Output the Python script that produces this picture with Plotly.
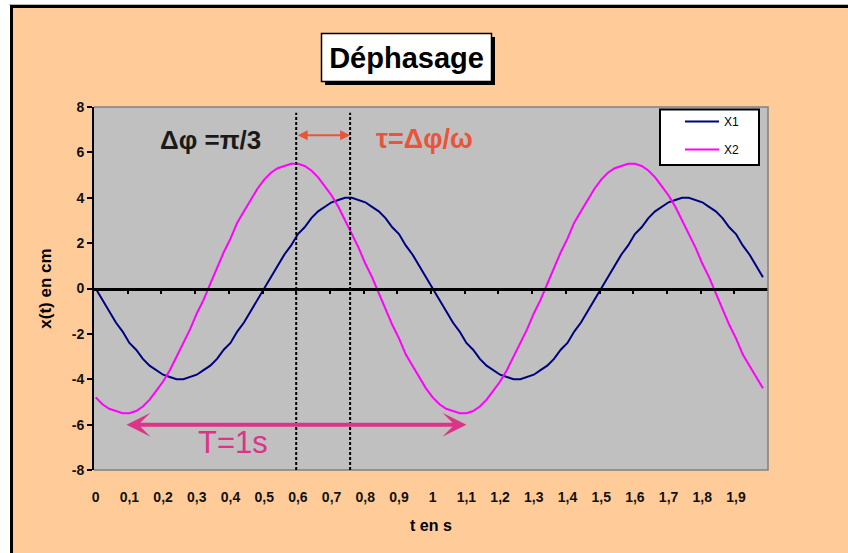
import plotly.graph_objects as go

# ---------------- data ----------------
t = [0.00, 0.02, 0.04, 0.06, 0.08, 0.10, 0.12, 0.14, 0.16, 0.18,
     0.20, 0.22, 0.24, 0.26, 0.28, 0.30, 0.32, 0.34, 0.36, 0.38,
     0.40, 0.42, 0.44, 0.46, 0.48, 0.50, 0.52, 0.54, 0.56, 0.58,
     0.60, 0.62, 0.64, 0.66, 0.68, 0.70, 0.72, 0.74, 0.76, 0.78,
     0.80, 0.82, 0.84, 0.86, 0.88, 0.90, 0.92, 0.94, 0.96, 0.98,
     1.00, 1.02, 1.04, 1.06, 1.08, 1.10, 1.12, 1.14, 1.16, 1.18,
     1.20, 1.22, 1.24, 1.26, 1.28, 1.30, 1.32, 1.34, 1.36, 1.38,
     1.40, 1.42, 1.44, 1.46, 1.48, 1.50, 1.52, 1.54, 1.56, 1.58,
     1.60, 1.62, 1.64, 1.66, 1.68, 1.70, 1.72, 1.74, 1.76, 1.78,
     1.80, 1.82, 1.84, 1.86, 1.88, 1.90, 1.92, 1.94, 1.96, 1.98]

x1 = [0.0, -0.5, -1.0, -1.5, -1.9, -2.4, -2.7, -3.1, -3.4, -3.6,
      -3.8, -3.9, -4.0, -4.0, -3.9, -3.8, -3.6, -3.4, -3.1, -2.7,
      -2.4, -1.9, -1.5, -1.0, -0.5, 0.0, 0.5, 1.0, 1.5, 1.9,
      2.4, 2.7, 3.1, 3.4, 3.6, 3.8, 3.9, 4.0, 4.0, 3.9,
      3.8, 3.6, 3.4, 3.1, 2.7, 2.4, 1.9, 1.5, 1.0, 0.5,
      0.0, -0.5, -1.0, -1.5, -1.9, -2.4, -2.7, -3.1, -3.4, -3.6,
      -3.8, -3.9, -4.0, -4.0, -3.9, -3.8, -3.6, -3.4, -3.1, -2.7,
      -2.4, -1.9, -1.5, -1.0, -0.5, 0.0, 0.5, 1.0, 1.5, 1.9,
      2.4, 2.7, 3.1, 3.4, 3.6, 3.8, 3.9, 4.0, 4.0, 3.9,
      3.8, 3.6, 3.4, 3.1, 2.7, 2.4, 1.9, 1.5, 1.0, 0.5]

x2 = [-4.8, -5.1, -5.3, -5.4, -5.5, -5.5, -5.4, -5.2, -4.9, -4.5,
      -4.1, -3.6, -3.0, -2.4, -1.8, -1.1, -0.5, 0.2, 0.9, 1.6,
      2.2, 2.9, 3.4, 3.9, 4.4, 4.8, 5.1, 5.3, 5.4, 5.5,
      5.5, 5.4, 5.2, 4.9, 4.5, 4.1, 3.6, 3.0, 2.4, 1.8,
      1.1, 0.5, -0.2, -0.9, -1.6, -2.2, -2.9, -3.4, -3.9, -4.4,
      -4.8, -5.1, -5.3, -5.4, -5.5, -5.5, -5.4, -5.2, -4.9, -4.5,
      -4.1, -3.6, -3.0, -2.4, -1.8, -1.1, -0.5, 0.2, 0.9, 1.6,
      2.2, 2.9, 3.4, 3.9, 4.4, 4.8, 5.1, 5.3, 5.4, 5.5,
      5.5, 5.4, 5.2, 4.9, 4.5, 4.1, 3.6, 3.0, 2.4, 1.8,
      1.1, 0.5, -0.2, -0.9, -1.6, -2.2, -2.9, -3.4, -3.9, -4.4]

series_names = ["X1", "X2"]

x_tick_vals = [0.0, 0.1, 0.2, 0.3, 0.4, 0.5, 0.6, 0.7, 0.8, 0.9,
               1.0, 1.1, 1.2, 1.3, 1.4, 1.5, 1.6, 1.7, 1.8, 1.9]
x_tick_text = ["0", "0,1", "0,2", "0,3", "0,4", "0,5", "0,6", "0,7", "0,8", "0,9",
               "1", "1,1", "1,2", "1,3", "1,4", "1,5", "1,6", "1,7", "1,8", "1,9"]
x_tick_marks = [0.095, 0.195, 0.295, 0.395, 0.495, 0.595, 0.695, 0.795, 0.895, 0.995,
                1.095, 1.195, 1.295, 1.395, 1.495, 1.595, 1.695, 1.795, 1.895]
x_range = [-0.005, 1.995]

y_tick_vals = [-8, -6, -4, -2, 0, 2, 4, 6, 8]
y_tick_text = ["-8", "-6", "-4", "-2", "0", "2", "4", "6", "8"]
y_range = [-8, 8]

phase_lines = [0.595, 0.755]      # peaks of X2 and X1
shift_arrow_y = 6.75
period_arrow_x = [0.087, 1.10]
period_arrow_y = -6.0

# ---------------- layout helpers ----------------
W, H = 848, 553
ML, MR, MT, MB = 94, 80, 107, 83
PW, PH = W - ML - MR, H - MT - MB


def px(x):
    return (x - ML) / PW


def py(y):
    return (H - MB - y) / PH


FONT = "Liberation Sans, Arial, sans-serif"
PEACH = "#FFCC99"
ORANGE = "#E8553B"
PINK = "#DD3388"

fig = go.Figure()
fig.add_trace(go.Scatter(x=t, y=x1, mode="lines", name=series_names[0],
                         line=dict(color="#000080", width=2), legendgroup="a"))
fig.add_trace(go.Scatter(x=t, y=x2, mode="lines", name=series_names[1],
                         line=dict(color="#FF00FF", width=2), legendgroup="b"))
fig.add_trace(go.Scatter(x=[], y=[], xaxis="x2", yaxis="y", showlegend=False,
                         hoverinfo="skip"))

shapes = [
    dict(type="rect", xref="paper", yref="paper", x0=px(-5), x1=px(10), y0=py(600), y1=py(-5),
         fillcolor="white", line=dict(width=0), layer="below"),
    dict(type="rect", xref="paper", yref="paper", x0=px(-5), x1=px(900), y0=py(5), y1=py(-5),
         fillcolor="white", line=dict(width=0), layer="below"),
    dict(type="line", xref="paper", yref="paper", x0=px(9), x1=px(900), y0=py(4.5), y1=py(4.5),
         line=dict(color="#BBBBBB", width=1), layer="below"),
    dict(type="line", xref="paper", yref="paper", x0=px(10), x1=px(900), y0=py(6.5), y1=py(6.5),
         line=dict(color="black", width=3), layer="below"),
    dict(type="line", xref="paper", yref="paper", x0=px(11.5), x1=px(11.5), y0=py(5), y1=py(600),
         line=dict(color="black", width=3), layer="below"),
    dict(type="rect", xref="paper", yref="paper", x0=px(325), x1=px(495), y0=py(85), y1=py(37),
         fillcolor="black", line=dict(width=0), layer="below"),
    dict(type="rect", xref="paper", yref="paper", x0=px(321.5), x1=px(491.5), y0=py(81.5), y1=py(33.5),
         fillcolor="white", line=dict(color="black", width=1.5), layer="below"),
    dict(type="path", xref="paper", yref="paper", path="M 0,0 L 1,0 L 1,1 L 0,1",
         line=dict(color="#808080", width=1.5), layer="above"),
    dict(type="rect", xref="paper", yref="paper", x0=px(660), x1=px(759), y0=py(165), y1=py(109.5),
         fillcolor="white", line=dict(color="black", width=2), layer="above"),
]
for xv in phase_lines:
    shapes.append(dict(type="line", xref="x", yref="y", x0=xv, x1=xv, y0=y_range[0], y1=7.75,
                       line=dict(color="black", width=2, dash="3px,2px"), layer="above"))

annotations = [
    dict(xref="paper", yref="paper", x=px(210), y=py(140), xanchor="center", yanchor="middle",
         text="<b>Δφ =π/3</b>", showarrow=False,
         font=dict(family=FONT, size=26, color="#1a1a1a")),
    dict(xref="paper", yref="paper", x=px(424), y=py(139), xanchor="center", yanchor="middle",
         text="<b>τ=Δφ/ω</b>", showarrow=False,
         font=dict(family=FONT, size=27, color=ORANGE)),
    dict(xref="paper", yref="paper", x=px(233), y=py(442), xanchor="center", yanchor="middle",
         text="T=1s", showarrow=False,
         font=dict(family=FONT, size=31, color=PINK)),
    dict(xref="x", yref="y", axref="x", ayref="y", x=phase_lines[1], y=shift_arrow_y,
         ax=phase_lines[0], ay=shift_arrow_y, text="", showarrow=True, arrowhead=2,
         arrowside="end+start", arrowwidth=2, arrowsize=1, arrowcolor=ORANGE),
    dict(xref="x", yref="y", axref="x", ayref="y", x=period_arrow_x[1], y=period_arrow_y,
         ax=period_arrow_x[0], ay=period_arrow_y, text="", showarrow=True, arrowhead=3,
         arrowside="end+start", arrowwidth=4, arrowsize=1, arrowcolor=PINK),
]

fig.update_layout(
    width=W, height=H,
    margin=dict(l=ML, r=MR, t=MT, b=MB, pad=0),
    paper_bgcolor=PEACH, plot_bgcolor="#C0C0C0",
    font=dict(family=FONT, color="black"),
    title=dict(text="<b>Déphasage</b>", x=406.5 / W, y=1 - 57.5 / H, xanchor="center",
               yanchor="middle", font=dict(family=FONT, size=29, color="black")),
    showlegend=True,
    legend=dict(x=px(680), y=py(107), xanchor="left", yanchor="top", bgcolor="rgba(0,0,0,0)",
                borderwidth=0, font=dict(family=FONT, size=12, color="black"),
                itemwidth=34, tracegroupgap=9),
    xaxis=dict(range=x_range, tickmode="array", tickvals=x_tick_vals, ticktext=x_tick_text,
               ticks="outside", ticklen=14, tickcolor="rgba(0,0,0,0)", showline=False,
               showgrid=False, zeroline=False,
               tickfont=dict(family=FONT, size=14, color="#111111", weight="bold"),
               title=dict(text="<b>t en s</b>", font=dict(family=FONT, size=16), standoff=16)),
    xaxis2=dict(range=x_range, overlaying="x", anchor="free", position=0.5, side="bottom",
                tickmode="array", tickvals=x_tick_marks, ticks="outside", ticklen=4, tickwidth=2,
                tickcolor="black", showticklabels=False, showline=True, linecolor="black",
                linewidth=2.5, showgrid=False, zeroline=False),
    yaxis=dict(range=y_range, tickmode="array", tickvals=y_tick_vals, ticktext=y_tick_text,
               ticks="outside", ticklen=5, tickwidth=2, tickcolor="black", showline=True,
               linecolor="black", linewidth=2, showgrid=False, zeroline=False,
               tickfont=dict(family=FONT, size=14, color="#111111", weight="bold"),
               title=dict(text="<b>x(t) en cm</b>", font=dict(family=FONT, size=17), standoff=16)),
    shapes=shapes,
    annotations=annotations,
)

fig.write_html("out.html", config={"displayModeBar": False},
               post_script="document.body.style.margin='0px';")
